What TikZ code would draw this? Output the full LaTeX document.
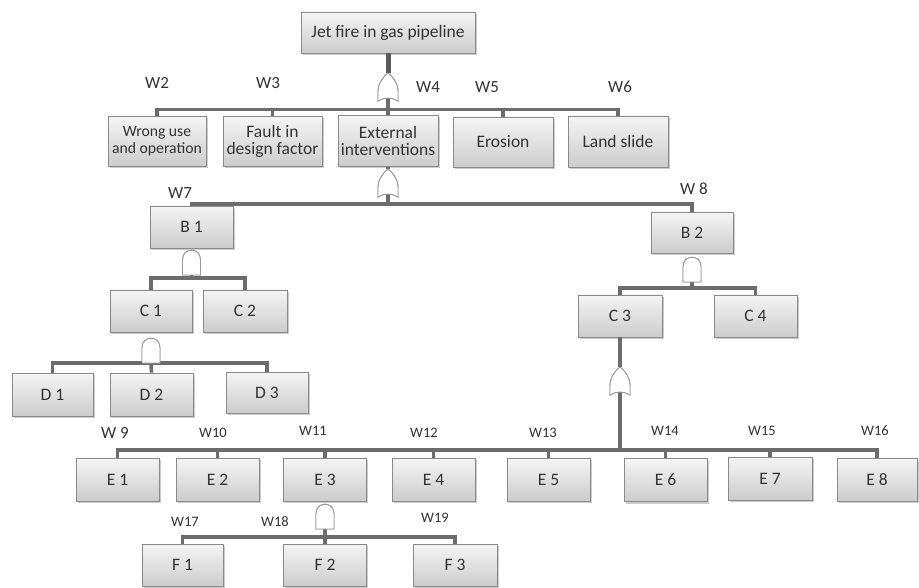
\documentclass[tikz,border=0pt]{standalone}
\usepackage{fontspec}
\setmainfont{Carlito}
\usetikzlibrary{shadows}
\definecolor{boxT}{HTML}{F5F5F5}
\definecolor{boxBot}{HTML}{CCCCCC}
\definecolor{boxB}{HTML}{8A8A8A}
\definecolor{lineC}{HTML}{6C6C6C}
\definecolor{stemC}{HTML}{5A5A5A}
\definecolor{gateC}{HTML}{9A9A9A}
\definecolor{txtC}{HTML}{333333}
\tikzset{
  box/.style={draw=boxB, line width=0.8pt, top color=boxT, bottom color=boxBot,
    drop shadow={shadow xshift=1.5pt, shadow yshift=-2pt, opacity=0.4},
    text=txtC, font=\fontsize{17.5}{17.5}\selectfont, align=center, inner sep=0pt},
  conn/.style={draw=lineC, line width=3.6pt},
  stem/.style={draw=stemC, line width=5pt},
  wlab/.style={text=txtC, font=\fontsize{17}{17}\selectfont, inner sep=0pt},
  wsmall/.style={text=txtC, font=\fontsize{14.5}{14.5}\selectfont, inner sep=0pt},
  gateshape/.style={draw=gateC, fill=white, line width=0.9pt},
  orgate/.pic={
    \path[gateshape] (0,0) .. controls (6,5) and (10,11) .. (10,19) -- (10,28)
      .. controls (4,24) and (-4,24) .. (-10,28) -- (-10,19)
      .. controls (-10,11) and (-6,5) .. (0,0) -- cycle;
    \coordinate (-top) at (0,0);
    \coordinate (-bot) at (0,25);
  },
  andgate/.pic={
    \path[gateshape] (-9,25) -- (-9,10) .. controls (-9,-3) and (9,-3) .. (9,10)
      -- (9,25) -- cycle;
    \coordinate (-top) at (0,0);
    \coordinate (-bot) at (0,25);
  }
}
\begin{document}
\begin{tikzpicture}[x=1pt,y=-1pt]
\useasboundingbox[fill=white] (0,0) rectangle (919,588);

% top event
\node[box, minimum width=174, minimum height=41] (top) at (388,32.5) {Jet fire in gas pipeline};

% level 2
\node[box, minimum width=98, minimum height=50, font=\fontsize{15.7}{17}\selectfont] (wrong) at (157,141.5) {Wrong use\\and operation};
\node[box, minimum width=99, minimum height=50] (fault) at (272.5,141.5) {Fault in\\design factor};
\node[box, minimum width=100, minimum height=51] (ext) at (388,141) {External\\interventions};
\node[box, minimum width=100, minimum height=50] (eros) at (503,142) {Erosion};
\node[box, minimum width=100, minimum height=51] (land) at (618,141.5) {Land slide};

% level B
\node[box, minimum width=83, minimum height=42] (b1) at (191.5,227) {B 1};
\node[box, minimum width=82, minimum height=41] (b2) at (692,232.5) {B 2};

% level C
\node[box, minimum width=82, minimum height=42] (c1) at (151,311) {C 1};
\node[box, minimum width=84, minimum height=42] (c2) at (245,311) {C 2};
\node[box, minimum width=84, minimum height=42] (c3) at (620,316) {C 3};
\node[box, minimum width=83, minimum height=42] (c4) at (755.5,316) {C 4};

% level D
\node[box, minimum width=81, minimum height=43] (d1) at (52.5,394.5) {D 1};
\node[box, minimum width=83, minimum height=43] (d2) at (151.5,394.5) {D 2};
\node[box, minimum width=82, minimum height=41] (d3) at (267,392.5) {D 3};

% level E
\node[box, minimum width=83, minimum height=43] (e1) at (117.5,479.5) {E 1};
\node[box, minimum width=83, minimum height=43] (e2) at (217.5,479.5) {E 2};
\node[box, minimum width=83, minimum height=43] (e3) at (325,479.5) {E 3};
\node[box, minimum width=83, minimum height=43] (e4) at (433.5,479.5) {E 4};
\node[box, minimum width=83, minimum height=43] (e5) at (548.5,479.5) {E 5};
\node[box, minimum width=83, minimum height=43] (e6) at (665.5,480) {E 6};
\node[box, minimum width=84, minimum height=43] (e7) at (770,478.5) {E 7};
\node[box, minimum width=80, minimum height=43] (e8) at (877,479.5) {E 8};

% level F
\node[box, minimum width=81, minimum height=42] (f1) at (182.5,565) {F 1};
\node[box, minimum width=83, minimum height=42] (f2) at (325,565) {F 2};
\node[box, minimum width=84, minimum height=42] (f3) at (455,565) {F 3};

% gates
\pic (g1) at (388,73) {orgate};
\pic (g2) at (388,169) {orgate};
\pic (gb1) at (191.5,250) {andgate};
\pic (gb2) at (692,257) {andgate};
\pic (gc1) at (151,338) {andgate};
\pic (gc3) at (620,367) {orgate};
\pic (ge3) at (325,504) {andgate};

% junction coordinates
\coordinate (j1) at (388,109.5);
\coordinate (j2) at (388,204);
\coordinate (j3) at (191.5,278);
\coordinate (j4) at (151,363);
\coordinate (j5) at (692,288);
\coordinate (j6) at (620,450);
\coordinate (j7) at (325,537);

% connectors: top
\draw[stem] (top.south) -- (g1-top);
\draw[conn] (g1-bot) -- (j1);
\draw[conn] (wrong.north) |- (j1) -| (land.north);
\draw[conn] (j1 -| fault.north) -- (fault.north);
\draw[conn] (j1) -- (ext.north);
\draw[conn] (j1 -| eros.north) -- (eros.north);

% external interventions
\draw[conn] (ext.south) -- (g2-top);
\draw[conn] (g2-bot) -- (j2);
\draw[conn] (b1.north) |- (j2) -| (b2.north);

% B1
\draw[conn] (gb1-bot) -- (j3);
\draw[conn] (c1.north) |- (j3) -| (c2.north);

% C1
\draw[conn] (gc1-bot) -- (j4);
\draw[conn] (d1.north) |- (j4) -| (d3.north);
\draw[conn] (j4) -- (d2.north);

% B2
\draw[conn] (gb2-bot) -- (j5);
\draw[conn] (c3.north) |- (j5) -| (c4.north);

% C3
\draw[conn] (c3.south) -- (gc3-top);
\draw[conn] (gc3-bot) -- (j6);
\draw[conn] (e1.north) |- (j6) -| (e8.north);
\draw[conn] (j6 -| e2.north) -- (e2.north);
\draw[conn] (j6 -| e3.north) -- (e3.north);
\draw[conn] (j6 -| e4.north) -- (e4.north);
\draw[conn] (j6 -| e5.north) -- (e5.north);
\draw[conn] (j6 -| e6.north) -- (e6.north);
\draw[conn] (j6 -| e7.north) -- (e7.north);

% E3
\draw[conn] (ge3-bot) -- (j7);
\draw[conn] (f1.north) |- (j7) -| (f3.north);
\draw[conn] (j7) -- (f2.north);

% redraw gates on top
\pic at (388,73) {orgate};
\pic at (388,169) {orgate};
\pic at (191.5,250) {andgate};
\pic at (692,257) {andgate};
\pic at (151,338) {andgate};
\pic at (620,367) {orgate};
\pic at (325,504) {andgate};

% labels
\node[wlab] (w2) at (157,83) {W2};
\node[wlab] (w3) at (268,83) {W3};
\node[wlab] (w4) at (428,87) {W4};
\node[wlab] (w5) at (487,87) {W5};
\node[wlab] (w6) at (620,87) {W6};
\node[wlab] (w7) at (180,193) {W7};
\node[wlab] (w8) at (694,189) {W 8};
\node[wlab] (w9) at (115,433) {W 9};
\node[wsmall] (w10) at (213,433) {W10};
\node[wsmall] (w11) at (313,431) {W11};
\node[wsmall] (w12) at (424,433) {W12};
\node[wsmall] (w13) at (543,433) {W13};
\node[wsmall] (w14) at (665,431) {W14};
\node[wsmall] (w15) at (762,431) {W15};
\node[wsmall] (w16) at (875,431) {W16};
\node[wsmall] (w17) at (185,522) {W17};
\node[wsmall] (w18) at (275,522) {W18};
\node[wsmall] (w19) at (435,518) {W19};
\end{tikzpicture}
\end{document}
